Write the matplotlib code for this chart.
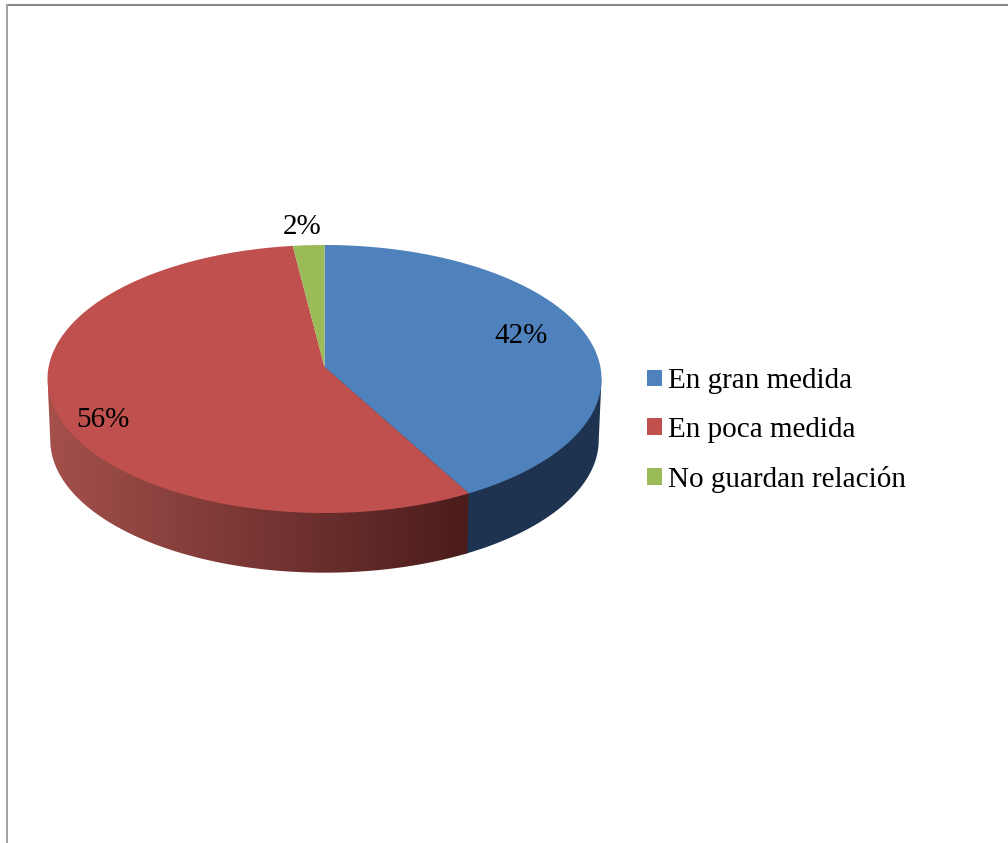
import numpy as np
import matplotlib.pyplot as plt
from matplotlib.patches import Patch, Polygon
from matplotlib.colors import to_rgb

categories = ["En gran medida", "En poca medida", "No guardan relación"]
shares = [42, 56, 2]
colors = ["#4f81bd", "#bf504d", "#9bbb59"]
label_pos = [(521, 336), (103, 420), (302, 227)]

# pie geometry in pixels, tilted disc with a little perspective
CX, CY = 324.5, 379
RX, RY = 277, 134
APEX_UP = 12
DEPTH = 61
RIM_SCALE = 0.99
K = APEX_UP / RY

plt.rcParams["font.family"] = ["Liberation Serif", "DejaVu Serif"]

fig = plt.figure(figsize=(10.08, 8.43), dpi=100)
ax = fig.add_axes([0, 0, 1, 1])
ax.set_xlim(0, 1008)
ax.set_ylim(843, 0)
ax.axis("off")


def project(theta, scale=1.0, dy=0.0):
    # theta runs clockwise from 12 o'clock
    a = RX * np.sqrt(1 - K * K)
    w = 1 + K * np.cos(theta)
    x = a * np.sin(theta) / w
    y = (RY * np.cos(theta) + APEX_UP) / w
    return CX + scale * x, CY + dy - scale * y


def side_poly(t0, t1):
    # rim arc plus a fan back to the apex, the top of the disc hides the fan
    th = np.linspace(t0, t1, 200)
    rx, ry = project(th, RIM_SCALE, DEPTH)
    x0, y0 = project(t0)
    x1, y1 = project(t1)
    xs = np.r_[x0, rx, x1, CX]
    ys = np.r_[y0, ry, y1, CY - APEX_UP]
    return np.column_stack([xs, ys])


ends = np.cumsum(shares) / np.sum(shares) * 2 * np.pi
starts = np.concatenate([[0], ends[:-1]])

# silhouette points of the disc, left and right
right_ext = np.arccos(-K)
left_ext = 2 * np.pi - right_ext

# blue wall is flat, red wall has a left to right shade
ax.fill(*side_poly(right_ext, ends[0] + 0.01).T, color="#1e334f", lw=0)

grad_x = np.linspace(0, 1, 256)
c0 = np.array(to_rgb("#a4504b"))
c1 = np.array(to_rgb("#4a1c1b"))
grad = (c0 + (c1 - c0) * grad_x[:, None])[None, :, :]
img = ax.imshow(grad, extent=(48, 470, 580, 240), aspect="auto", zorder=1)
clip = Polygon(side_poly(ends[0], left_ext), transform=ax.transData)
img.set_clip_path(clip)
ax.set_xlim(0, 1008)
ax.set_ylim(843, 0)

# top of the disc
for start, end, col in zip(starts, ends, colors):
    th = np.linspace(start, end, 200)
    x, y = project(th)
    ax.fill(np.r_[CX, x], np.r_[CY - APEX_UP, y], color=col, lw=0, zorder=2)

for val, (px, py) in zip(shares, label_pos):
    ax.text(px, py, f"{val}%", fontsize=21, color="black", ha="center", va="center", zorder=3)

handles = [Patch(facecolor=c, edgecolor="none") for c in colors]
ax.legend(
    handles,
    categories,
    loc="center left",
    bbox_to_anchor=(647 / 1008, 1 - 430.5 / 843),
    frameon=False,
    fontsize=21,
    borderpad=0,
    borderaxespad=0,
    handlelength=0.514,
    handleheight=0.5,
    handletextpad=0.2,
    labelspacing=0.775,
    labelcolor="black",
)

# chart frame, only top and left show in the crop
ax.plot([7, 1008], [4.5, 4.5], color="#868686", lw=1.5, solid_capstyle="butt")
ax.plot([7, 7], [4, 843], color="#a3a3a3", lw=1.5, solid_capstyle="butt")

fig.savefig("out.png", dpi=100)
